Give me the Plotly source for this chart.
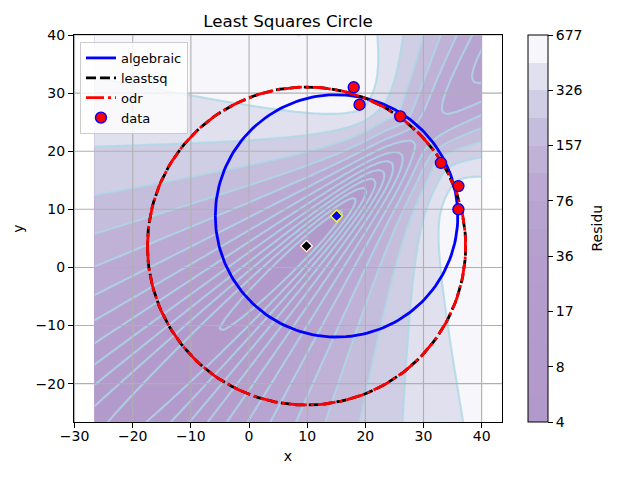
import numpy as np
import plotly.graph_objects as go

# ---------------- data ----------------
DATA_X = [36, 36, 19, 18, 33, 26]
DATA_Y = [14, 10, 28, 31, 18, 26]

METHODS = ["algebraic", "leastsq", "odr"]
CENTER_X = [15.05, 9.887, 9.887]
CENTER_Y = [8.87, 3.685, 3.685]
RADIUS = [20.85, 27.364, 27.364]

RESIDU_MIN = 4.05
RESIDU_MAX = 677.0
N_LEVELS = 15
CBAR_TICK_LABELS = ["4", "8", "17", "36", "76", "157", "326", "677"]

X_TICKS = [-30, -20, -10, 0, 10, 20, 30, 40]
Y_TICKS = [-20, -10, 0, 10, 20, 30, 40]
FIELD_RANGE = [-26.6, 40.0]
X_RANGE = [-30.1, 43.5]
Y_RANGE = [-26.6, 40.0]

FONT = "DejaVu Sans"

# ---------------- residual field ----------------
g = np.linspace(FIELD_RANGE[0], FIELD_RANGE[1], 100)
xg, yg = np.meshgrid(g, g)
Ri = np.hypot(xg[..., None] - np.array(DATA_X), yg[..., None] - np.array(DATA_Y))
res = ((Ri - Ri.mean(axis=2, keepdims=True)) ** 2).sum(axis=2)
z = np.log(res)

lo, hi = np.log(RESIDU_MIN), np.log(RESIDU_MAX)
step = (hi - lo) / (N_LEVELS - 1)
levels = np.exp(np.linspace(lo, hi, N_LEVELS))

PURPLES = [(252, 251, 253), (239, 237, 245), (218, 218, 235), (188, 189, 220),
           (158, 154, 200), (128, 125, 186), (106, 81, 163), (84, 39, 143), (63, 0, 125)]


def purples_r(t, alpha=0.4):
    u = (1 - t) * 8
    i = min(int(np.floor(u)), 7)
    f = u - i
    c = [PURPLES[i][k] * (1 - f) + PURPLES[i + 1][k] * f for k in range(3)]
    c = [alpha * v + (1 - alpha) * 255 for v in c]
    return "rgb(%d,%d,%d)" % tuple(round(v) for v in c)


nb = N_LEVELS - 1
cscale = []
for k in range(nb):
    mid = (levels[k] + levels[k + 1]) / 2
    t = (mid - levels[0]) / (levels[-1] - levels[0])
    col = purples_r(t)
    cscale.append([k / nb, col])
    cscale.append([(k + 1) / nb, col])

fig = go.Figure()

# page body adds an 8px offset; margins compensate for it
plot_l, plot_t, plot_w, plot_h = 66, 27, 428, 387
plot_r = 640 - plot_l - plot_w
plot_b = 480 - plot_t - plot_h

fig.add_trace(go.Contour(
    x=g, y=g, z=z, zmin=lo, zmax=hi, autocontour=False,
    contours=dict(start=lo, end=hi, size=step, coloring="fill", showlines=False),
    colorscale=cscale, line=dict(width=0), hoverinfo="skip", showlegend=False,
    colorbar=dict(
        x=(520 - plot_l) / plot_w, xanchor="left", y=0.5, yanchor="middle",
        len=1, lenmode="fraction", thickness=20, thicknessmode="pixels",
        xpad=0, ypad=0, outlinecolor="black", outlinewidth=1,
        tickmode="array", tickvals=list(np.log(levels[::2])), ticktext=CBAR_TICK_LABELS,
        ticks="outside", ticklen=5, tickcolor="black", tickwidth=1,
        tickfont=dict(size=14, family=FONT, color="black"),
    ),
))

# grid lines (drawn above the filled contours, as in the reference)
gx, gy = [], []
for t in X_TICKS:
    if X_RANGE[0] <= t <= X_RANGE[1]:
        gx += [t, t, None]
        gy += [Y_RANGE[0], Y_RANGE[1], None]
for t in Y_TICKS:
    if Y_RANGE[0] <= t <= Y_RANGE[1]:
        gx += [X_RANGE[0], X_RANGE[1], None]
        gy += [t, t, None]
fig.add_trace(go.Scatter(x=gx, y=gy, mode="lines", line=dict(color="#b0b0b0", width=1.1),
                         hoverinfo="skip", showlegend=False))

fig.add_trace(go.Contour(
    x=g, y=g, z=z, autocontour=False, showscale=False,
    contours=dict(start=lo, end=hi, size=step, coloring="none", showlines=True),
    line=dict(color="rgba(173,216,230,0.8)", width=2.1), hoverinfo="skip", showlegend=False,
))

theta = np.linspace(-np.pi, np.pi, 180)
styles = [
    dict(color="blue", width=2.8, dash="solid"),
    dict(color="black", width=2.8, dash="10px,4px"),
    dict(color="red", width=2.8, dash="18px,4px,3px,4px"),
]
center_styles = [("blue", "yellow"), ("green", "red"), ("black", "white")]
for i, name in enumerate(METHODS):
    fig.add_trace(go.Scatter(
        x=CENTER_X[i] + RADIUS[i] * np.cos(theta), y=CENTER_Y[i] + RADIUS[i] * np.sin(theta),
        mode="lines", line=styles[i], name=name, hoverinfo="skip"))
    fig.add_trace(go.Scatter(
        x=[CENTER_X[i]], y=[CENTER_Y[i]], mode="markers", showlegend=False,
        marker=dict(symbol="diamond", size=9, color=center_styles[i][0],
                    line=dict(color=center_styles[i][1], width=1.4))))

fig.add_trace(go.Scatter(
    x=DATA_X, y=DATA_Y, mode="markers", name="data",
    marker=dict(symbol="circle", size=11, color="red", line=dict(color="blue", width=1.4))))

axis_common = dict(showline=True, mirror=True, linecolor="black", linewidth=1.1,
                   ticks="outside", ticklen=5, tickcolor="black", tickwidth=1.1,
                   showgrid=False, zeroline=False,
                   tickfont=dict(size=14, family=FONT, color="black"))

fig.update_layout(
    width=640, height=480,
    margin=dict(l=plot_l, r=plot_r, t=plot_t, b=plot_b, autoexpand=False),
    paper_bgcolor="white", plot_bgcolor="white",
    font=dict(family=FONT, color="black"),
    title=dict(text="Least Squares Circle", x=0.5, xref="paper", xanchor="center",
               y=1 - 13.5 / 480, yref="container", yanchor="middle",
               font=dict(size=16.7, family=FONT, color="black")),
    xaxis=dict(range=X_RANGE, tickmode="array", tickvals=X_TICKS, ticklabelstandoff=-4,
               title=dict(text="x", font=dict(size=14, family=FONT), standoff=8), **axis_common),
    yaxis=dict(range=Y_RANGE, tickmode="array", tickvals=Y_TICKS,
               title=dict(text="y", font=dict(size=14, family=FONT), standoff=8), **axis_common),
    legend=dict(x=0.014, y=0.982, xanchor="left", yanchor="top",
                bgcolor="rgba(255,255,255,0.8)", bordercolor="#cccccc", borderwidth=1,
                font=dict(size=13, family=FONT, color="black"), tracegroupgap=0),
    annotations=[dict(text="Residu", textangle=-90, xref="paper", yref="paper",
                      x=(588 - plot_l) / plot_w, y=0.5, xanchor="center", yanchor="middle",
                      showarrow=False, font=dict(size=14, family=FONT, color="black"))],
    showlegend=True,
)

fig.write_html("out.html")
